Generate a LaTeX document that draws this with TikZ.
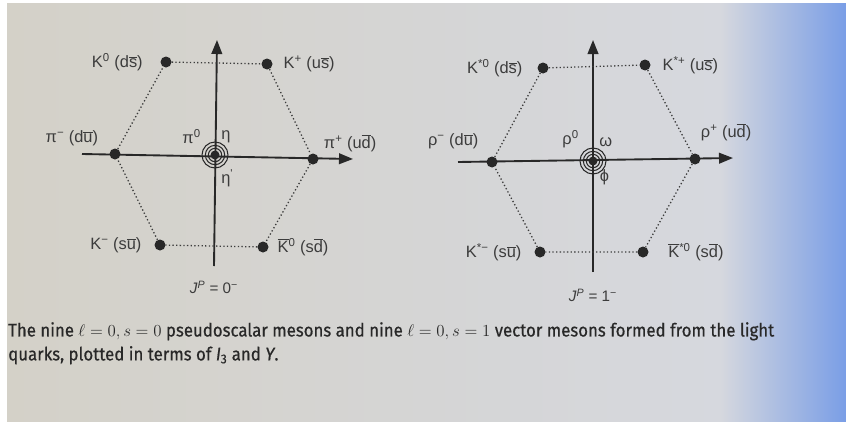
\documentclass[tikz,border=0pt]{standalone}
\usepackage{fontspec}
\setmainfont{Liberation Sans}
\newfontfamily\capfont[FakeStretch=0.92, FakeBold=0.6]{Fira Sans}
\usetikzlibrary{arrows.meta, positioning}

\definecolor{paperL}{RGB}{212,209,200}
\definecolor{paperM}{RGB}{214,216,222}
\definecolor{photoblue}{RGB}{122,158,230}
\definecolor{ink}{RGB}{40,40,40}
\definecolor{labgray}{RGB}{60,60,60}

\newcommand{\qbar}[1]{\ensuremath{\overline{\mbox{#1}}}}

\begin{document}
\begin{tikzpicture}[
    x=0.03cm, y=-0.03cm,
    meson/.style={circle, fill=ink, inner sep=0pt, minimum size=0.33cm},
    centre/.style={circle, fill=ink, inner sep=0pt, minimum size=0.27cm},
    ring/.style={draw=ink, line width=0.9pt},
    axis/.style={-{Triangle[length=4.2mm, width=3.2mm]}, draw=ink, line width=1.6pt},
    hexline/.style={draw=labgray, dotted, line width=1.1pt},
    lab/.style={font=\fontsize{14}{16}\selectfont, text=labgray, inner sep=0pt},
    spin/.style={font=\fontsize{13}{15}\selectfont, text=labgray, inner sep=0pt},
    caption/.style={font=\capfont\fontsize{15.6}{20.4}\selectfont, text=ink,
                    align=left, inner sep=0pt},
]
\useasboundingbox (0,0) rectangle (846,421);

% ---------- Photo background ----------
\fill[white] (0,0) rectangle (846,421);
\shade[left color=paperL, right color=paperM] (7,3) rectangle (720,421);
\shade[left color=paperM, right color=photoblue] (720,3) rectangle (846,421);

% ---------- Left nonet: pseudoscalar mesons ----------
\coordinate (ax1l) at (82,154);
\coordinate (ax1r) at (353,159);
\coordinate (ax1b) at (214,266);
\coordinate (ax1t) at (217,40);
\draw[axis] (ax1l) -- (ax1r);
\draw[axis] (ax1b) -- (ax1t);

\node[meson] (k0)    at (166,62)  {};
\node[meson] (kp)    at (267,64)  {};
\node[meson] (pim)   at (115,154) {};
\node[meson] (pip)   at (313,159) {};
\node[meson] (km)    at (160,245) {};
\node[meson] (kb0)   at (263,247) {};
\node[centre] (c1)   at (215,155) {};
\foreach \r in {0.2,0.29,0.39}
    \draw[ring] (c1) circle[radius=\r cm];

\draw[hexline] (k0) -- (kp) -- (pip) -- (kb0) -- (km) -- (pim) -- (k0);

\node[lab, left=0.52cm of k0]  {K\textsuperscript{0} (d\qbar{s})};
\node[lab, right=0.32cm of kp] {K\textsuperscript{+} (u\qbar{s})};
\node[lab, above left=0.1cm and 0.38cm of pim]  {π\textsuperscript{−} (d\qbar{u})};
\node[lab, above right=0.07cm and 0.2cm of pip] {π\textsuperscript{+} (u\qbar{d})};
\node[lab, above left=0.22cm and 0.32cm of c1]  {π\textsuperscript{0}};
\node[lab, above right=0.25cm and 0.08cm of c1] {η};
\node[lab, below right=0.33cm and 0.08cm of c1] {η\textsuperscript{\textquotesingle}};
\node[lab, left=0.38cm of km]   {K\textsuperscript{−} (s\qbar{u})};
\node[lab, right=0.26cm of kb0] {\qbar{K}\textsuperscript{0} (s\qbar{d})};
\node[spin, below=0.45cm of ax1b] {\textit{J}\textsuperscript{\textit{P}} = 0\textsuperscript{−}};

% ---------- Right nonet: vector mesons ----------
\coordinate (ax2l) at (458,162);
\coordinate (ax2r) at (733,158);
\coordinate (ax2b) at (593,272);
\coordinate (ax2t) at (593,40);
\draw[axis] (ax2l) -- (ax2r);
\draw[axis] (ax2b) -- (ax2t);

\node[meson] (ks0)   at (543,68)  {};
\node[meson] (ksp)   at (645,65)  {};
\node[meson] (rhom)  at (492,162) {};
\node[meson] (rhop)  at (695,159) {};
\node[meson] (ksm)   at (540,252) {};
\node[meson] (kbs0)  at (643,252) {};
\node[centre] (c2)   at (593,161) {};
\foreach \r in {0.2,0.29,0.39}
    \draw[ring] (c2) circle[radius=\r cm];

\draw[hexline] (ks0) -- (ksp) -- (rhop) -- (kbs0) -- (ksm) -- (rhom) -- (ks0);

\node[lab, left=0.44cm of ks0]  {K\textsuperscript{*0} (d\qbar{s})};
\node[lab, right=0.35cm of ksp] {K\textsuperscript{*+} (u\qbar{s})};
\node[lab, above left=0.26cm and 0.28cm of rhom]  {ρ\textsuperscript{−} (d\qbar{u})};
\node[lab, above right=0.4cm and 0.05cm of rhop] {ρ\textsuperscript{+} (u\qbar{d})};
\node[lab, above left=0.28cm and 0.32cm of c2]  {ρ\textsuperscript{0}};
\node[lab, above right=0.33cm and 0.08cm of c2] {ω};
\node[lab, below right=0.14cm and 0.1cm of c2]  {ϕ};
\node[lab, left=0.38cm of ksm]   {K\textsuperscript{*−} (s\qbar{u})};
\node[lab, right=0.58cm of kbs0] {\qbar{K}\textsuperscript{*0} (s\qbar{d})};
\node[spin, below=0.5cm of ax2b] {\textit{J}\textsuperscript{\textit{P}} = 1\textsuperscript{−}};

% ---------- Caption ----------
\node[caption, anchor=north west] (cap) at (8,322)
    {The nine $\ell = 0, s = 0$ pseudoscalar mesons and nine $\ell = 0, s = 1$ vector mesons formed from the light\\
     quarks, plotted in terms of \textit{I}\textsubscript{3} and \textit{Y}.};

\end{tikzpicture}
\end{document}
